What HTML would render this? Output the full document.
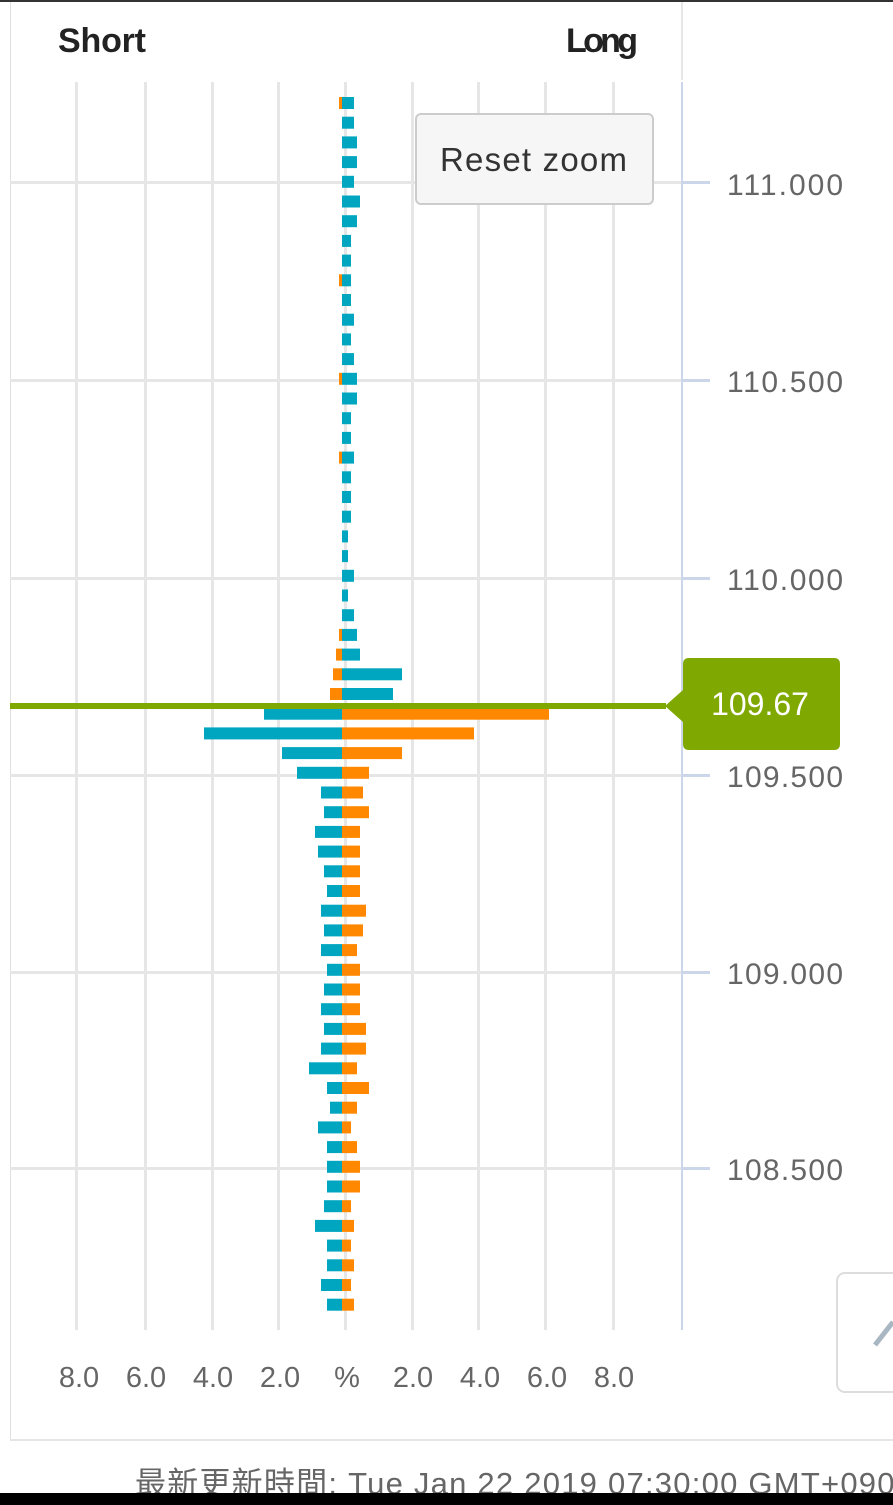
<!DOCTYPE html>
<html><head><meta charset="utf-8"><style>
html,body{margin:0;padding:0;background:#fff;width:893px;height:1505px;overflow:hidden}
svg{display:block}
text{font-family:"Liberation Sans",sans-serif}
</style></head><body>
<svg id="s" width="893" height="1505" xmlns="http://www.w3.org/2000/svg">
<rect x="0" y="0" width="893" height="2" fill="#333"/>
<rect x="10" y="2" width="1" height="1439" fill="#e0e0e0"/>
<rect x="10" y="1439" width="883" height="2" fill="#e6e6e6"/>
<rect x="681" y="2" width="2" height="78" fill="#e6e6e6"/>
<g fill="#e6e6e6">
<rect x="75" y="82" width="3" height="1248"/><rect x="144" y="82" width="3" height="1248"/>
<rect x="211" y="82" width="3" height="1248"/><rect x="277" y="82" width="3" height="1248"/>
<rect x="344" y="82" width="3" height="1248"/><rect x="411" y="82" width="3" height="1248"/>
<rect x="477" y="82" width="3" height="1248"/><rect x="544" y="82" width="3" height="1248"/>
<rect x="612" y="82" width="3" height="1248"/>
<rect x="10" y="181" width="672" height="3"/><rect x="10" y="379" width="672" height="3"/>
<rect x="10" y="577" width="672" height="3"/><rect x="10" y="774" width="672" height="3"/>
<rect x="10" y="971" width="672" height="3"/><rect x="10" y="1167" width="672" height="3"/>
</g>
<rect x="681" y="82" width="2" height="1248" fill="#ccd6eb"/>
<g fill="#ccd6eb">
<rect x="682" y="181" width="28" height="3"/><rect x="682" y="379" width="28" height="3"/>
<rect x="682" y="577" width="28" height="3"/><rect x="682" y="774" width="28" height="3"/>
<rect x="682" y="971" width="28" height="3"/><rect x="682" y="1167" width="28" height="3"/>
</g>
<g id="bars"></g>
<text x="58" y="52" font-size="34" font-weight="bold" fill="#222" textLength="88">Short</text>
<text x="566" y="52" font-size="34" font-weight="bold" fill="#222" textLength="72">Long</text>
<g font-size="30" fill="#666">
<text x="727" y="195" textLength="116">111.000</text><text x="727" y="392" textLength="116">110.500</text>
<text x="727" y="590" textLength="116">110.000</text><text x="727" y="787" textLength="116">109.500</text>
<text x="727" y="984" textLength="116">109.000</text><text x="727" y="1180" textLength="116">108.500</text>
</g>
<g font-size="29" fill="#666" text-anchor="middle">
<text x="79" y="1387">8.0</text><text x="146" y="1387">6.0</text><text x="213" y="1387">4.0</text>
<text x="280" y="1387">2.0</text><text x="347" y="1387">%</text><text x="413" y="1387">2.0</text>
<text x="480" y="1387">4.0</text><text x="547" y="1387">6.0</text><text x="614" y="1387">8.0</text>
</g>
<rect x="10" y="703" width="656" height="6" fill="#7fa800"/>
<path d="M689 658 H834 Q840 658 840 664 V744 Q840 750 834 750 H689 Q683 750 683 744 V722 L665 706 L683 690 V664 Q683 658 689 658Z" fill="#7fa800"/>
<text x="760" y="715" font-size="32" fill="#fff" text-anchor="middle">109.67</text>
<rect x="416" y="114" width="237" height="90" rx="5" fill="#f6f6f6" stroke="#cccccc" stroke-width="2"/>
<text x="440" y="171" font-size="33" fill="#333" textLength="187">Reset zoom</text>
<rect x="837" y="1273" width="70" height="119" rx="8" fill="#fff" stroke="#ddd" stroke-width="2"/>
<path d="M875 1345 L893 1322" stroke="#a9b7c3" stroke-width="5"/>
<text x="135" y="1494" font-size="31" fill="#666" textLength="778" font-family="Liberation Sans,Noto Sans CJK JP,sans-serif">最新更新時間: Tue Jan 22 2019 07:30:00 GMT+0900</text>
<rect x="0" y="1493" width="893" height="12" fill="#000"/>
</svg>
<script>
var T="#00a6c0",O="#ff8800";
var d=[[3,12,1],[0,12,1],[0,15,1],[0,15,1],[0,12,1],[0,18,1],[0,15,1],[0,9,1],[0,9,1],[3,9,1],[0,9,1],[0,12,1],[0,9,1],[0,12,1],[3,15,1],[0,15,1],[0,9,1],[0,9,1],[3,12,1],[0,9,1],[0,9,1],[0,9,1],[0,6,1],[0,6,1],[0,12,1],[0,6,1],[0,12,1],[3,15,1],[6,18,1],[9,60,1],[12,51,1],
[78,207,0],[138,132,0],[60,60,0],[45,27,0],[21,21,0],[18,27,0],[27,18,0],[24,18,0],[18,18,0],[15,18,0],[21,24,0],[18,21,0],[21,15,0],[15,18,0],[18,18,0],[21,18,0],[18,24,0],[21,24,0],[33,15,0],[15,27,0],[12,15,0],[24,9,0],[15,15,0],[15,18,0],[15,18,0],[18,9,0],[27,12,0],[15,9,0],[15,12,0],[21,9,0],[15,12,0]];
var g=document.getElementById("bars"),h="";
for(var i=0;i<d.length;i++){var y=103+i*19.7-6,r=d[i];var lc=r[2]?O:T,rc=r[2]?T:O;
if(r[0])h+='<rect x="'+(342-r[0])+'" y="'+y+'" width="'+r[0]+'" height="12" fill="'+lc+'"/>';
if(r[1])h+='<rect x="342" y="'+y+'" width="'+r[1]+'" height="12" fill="'+rc+'"/>';}
g.innerHTML=h;
</script>
</body></html>
